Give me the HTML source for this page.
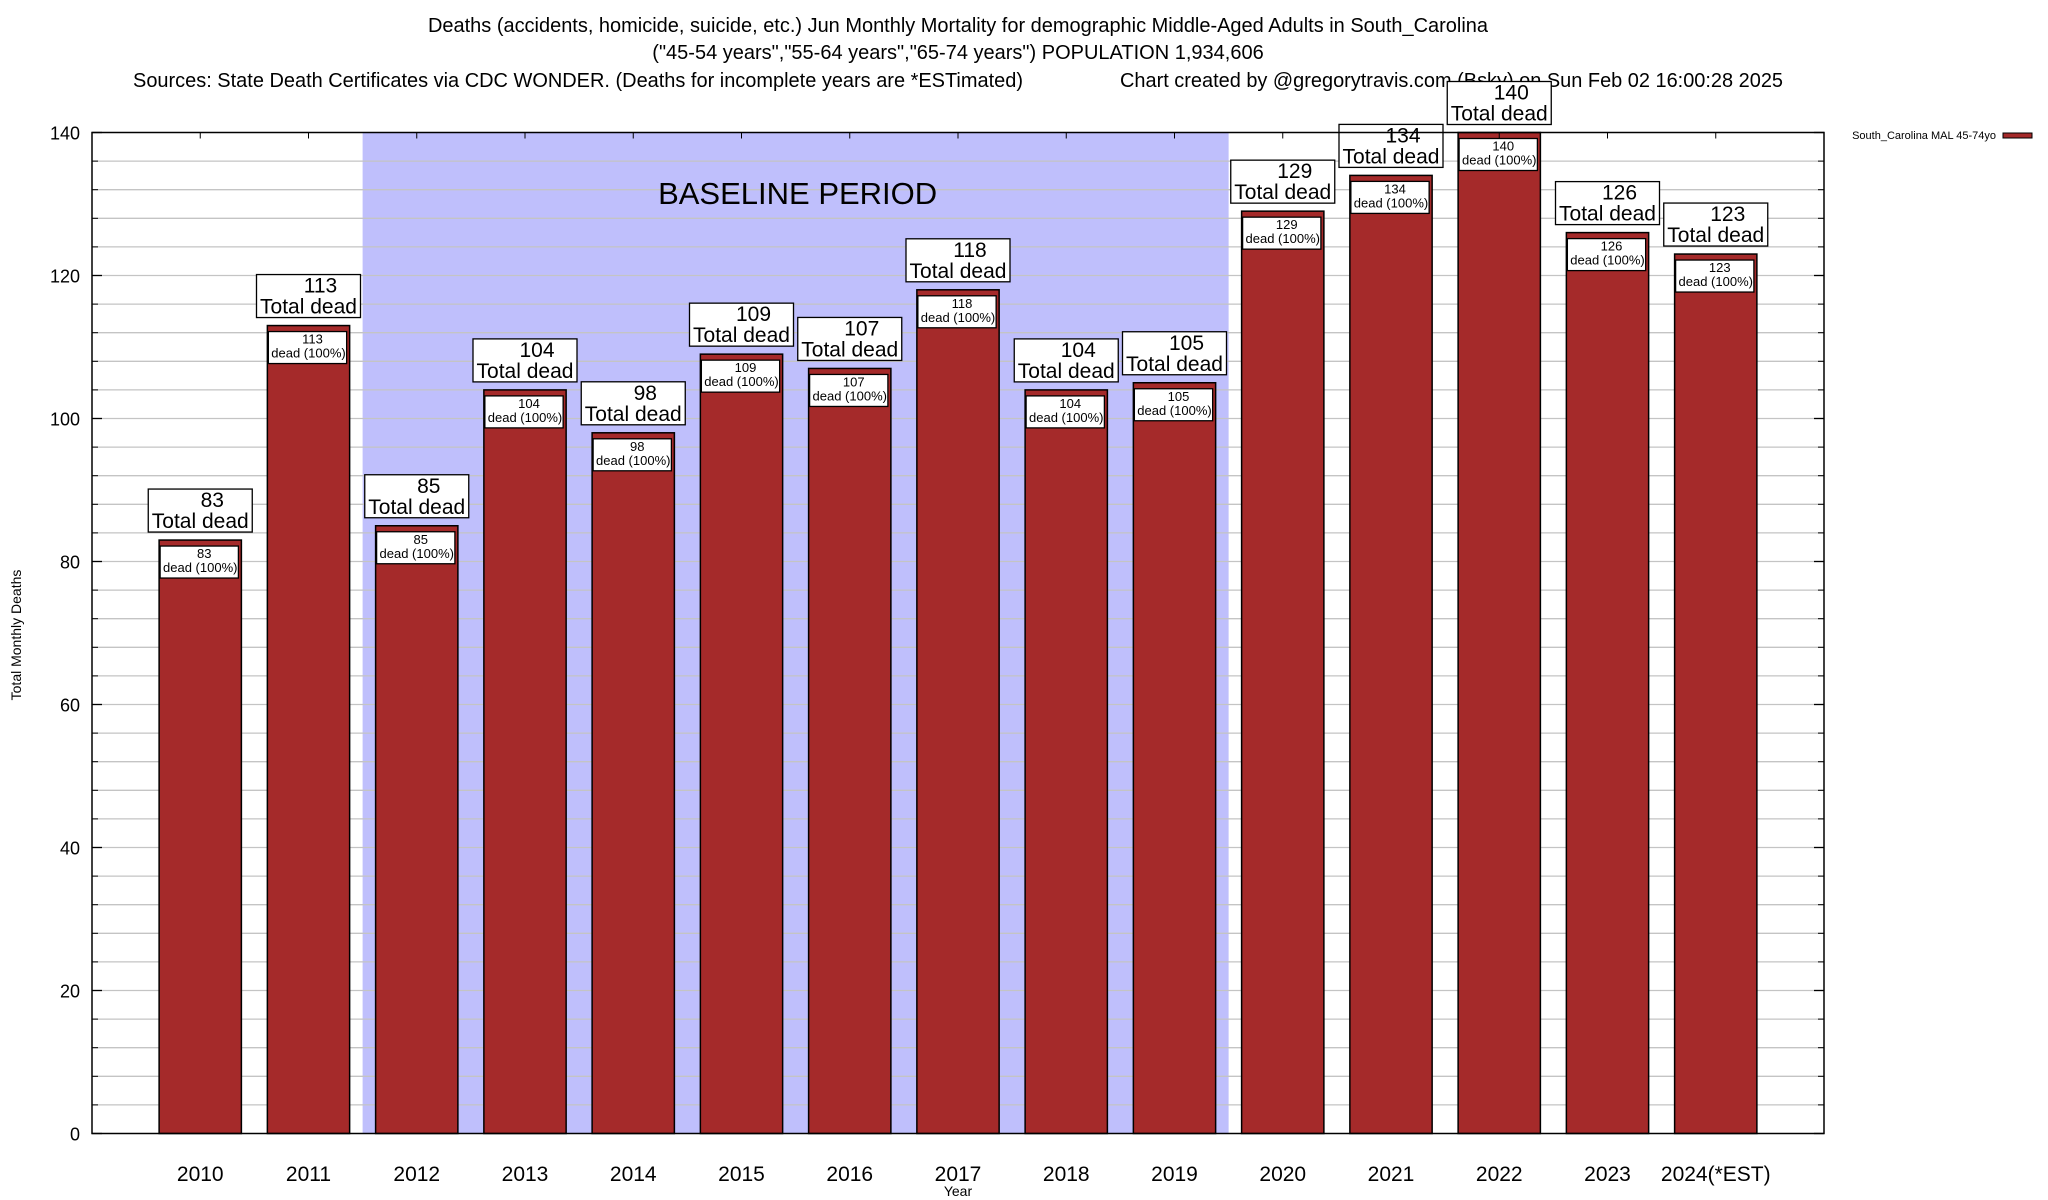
<!DOCTYPE html>
<html><head><meta charset="utf-8"><style>
html,body{margin:0;padding:0;background:#fff;}
svg{display:block;font-family:"Liberation Sans",sans-serif;}
</style></head><body>
<svg id="chart" width="2048" height="1200" viewBox="0 0 2048 1200" xmlns="http://www.w3.org/2000/svg">
<g font-size="20" fill="#000">
<text x="958" y="32" text-anchor="middle" textLength="1060" lengthAdjust="spacingAndGlyphs">Deaths (accidents, homicide, suicide, etc.) Jun Monthly Mortality for demographic Middle-Aged Adults in South_Carolina</text>
<text x="958" y="59" text-anchor="middle">("45-54 years","55-64 years","65-74 years") POPULATION 1,934,606</text>
<text x="133" y="87" textLength="890" lengthAdjust="spacingAndGlyphs">Sources: State Death Certificates via CDC WONDER. (Deaths for incomplete years are *ESTimated)</text>
<text x="1120" y="87" textLength="663" lengthAdjust="spacingAndGlyphs">Chart created by @gregorytravis.com (Bsky) on Sun Feb 02 16:00:28 2025</text>
</g>
<g id="plot"></g>
<text x="0" y="0" font-size="14" text-anchor="middle" transform="translate(21,635) rotate(-90)">Total Monthly Deaths</text>
<text x="958" y="1196" font-size="14" text-anchor="middle">Year</text>
<g>
<text x="1996" y="139" font-size="11" text-anchor="end">South_Carolina MAL 45-74yo</text>
<rect x="2003" y="133" width="29" height="5" fill="#a52a2a" stroke="#000" stroke-width="1"/>
</g>
</svg>
<script>
const categories = ["2010","2011","2012","2013","2014","2015","2016","2017","2018","2019","2020","2021","2022","2023","2024(*EST)"];
const values = [83,113,85,104,98,109,107,118,104,105,129,134,140,126,123];
const yTicks = [0,20,40,60,80,100,120,140];
const baselineStart = 1.5;
const baselineEnd = 9.5;
const baselineLabel = "BASELINE PERIOD";

const NS = "http://www.w3.org/2000/svg";
const L = 92, R = 1824, T = 132.5, B = 1133.5;
const xMin = -1, xMax = 15, yMin = 0, yMax = 140;
const xs = i => L + (i - xMin) / (xMax - xMin) * (R - L);
const ys = v => B - (v - yMin) / (yMax - yMin) * (B - T);
const unit = (R - L) / (xMax - xMin);
const plot = document.getElementById('plot');
function mk(tag, attrs, parent) {
  const e = document.createElementNS(NS, tag);
  for (const k in attrs) e.setAttribute(k, attrs[k]);
  (parent || plot).appendChild(e);
  return e;
}
let e = mk('rect', {x: L, y: T, width: R - L, height: B - T, fill: '#fff'});


e = mk('rect', {x: xs(baselineStart), y: T, width: xs(baselineEnd) - xs(baselineStart), height: B - T, fill: '#bfbffc'});


for (let v = 4; v < yMax; v += 4) {
  e = mk('line', {x1: L, x2: R, y1: ys(v), y2: ys(v), stroke: '#c4c4c4', 'stroke-width': 1.3});
  
  
  mk('line', {x1: L, x2: L + 6, y1: ys(v), y2: ys(v), stroke: '#000', 'stroke-width': 1});
  mk('line', {x1: R - 6, x2: R, y1: ys(v), y2: ys(v), stroke: '#000', 'stroke-width': 1});
}
e = mk('text', {x: (xs(baselineStart) + xs(baselineEnd)) / 2 + 2, y: 204, 'font-size': 31, 'text-anchor': 'middle'});
e.textContent = baselineLabel;


yTicks.forEach(v => {
  const t = mk('text', {x: 80, y: ys(v) + 7, 'font-size': 18, 'text-anchor': 'end'});
  t.textContent = v;
  
  
  mk('line', {x1: L, x2: L + 10, y1: ys(v), y2: ys(v), stroke: '#000', 'stroke-width': 1.3});
  mk('line', {x1: R - 10, x2: R, y1: ys(v), y2: ys(v), stroke: '#000', 'stroke-width': 1.3});
});
const bw = unit * 0.76;
categories.forEach((c, i) => {
  const cx = xs(i), v = values[i], yt = ys(v);
  const bar = mk('rect', {x: cx - bw / 2, y: yt, width: bw, height: B - yt, fill: '#a52a2a', stroke: '#000', 'stroke-width': 1.5});
  
  
  const ib = mk('rect', {x: cx - bw / 2 + 1, y: yt + 6, width: bw - 4, height: 32, fill: '#fff', stroke: '#000', 'stroke-width': 1.3});
  
  
  let t = mk('text', {x: cx + 4, y: yt + 18, 'font-size': 13, 'text-anchor': 'middle'});
  t.textContent = v;
  
  
  t = mk('text', {x: cx, y: yt + 32, 'font-size': 13, 'text-anchor': 'middle'});
  t.textContent = 'dead (100%)';
  
  
  const ob = mk('rect', {x: cx - 52, y: yt - 51, width: 104, height: 43, fill: '#fff', stroke: '#000', 'stroke-width': 1.3});
  
  
  t = mk('text', {x: cx + 12, y: yt - 33, 'font-size': 21, 'text-anchor': 'middle'});
  t.textContent = v;
  
  
  t = mk('text', {x: cx, y: yt - 12, 'font-size': 21, 'text-anchor': 'middle'});
  t.textContent = 'Total dead';
  
  
  t = mk('text', {x: cx, y: 1181, 'font-size': 21, 'text-anchor': 'middle'});
  t.textContent = c;
  
  
  mk('line', {x1: cx, x2: cx, y1: T, y2: T + 6, stroke: '#000', 'stroke-width': 1});
});
e = mk('rect', {x: L, y: T, width: R - L, height: B - T, fill: 'none', stroke: '#000', 'stroke-width': 1.5});


</script>
</body></html>
